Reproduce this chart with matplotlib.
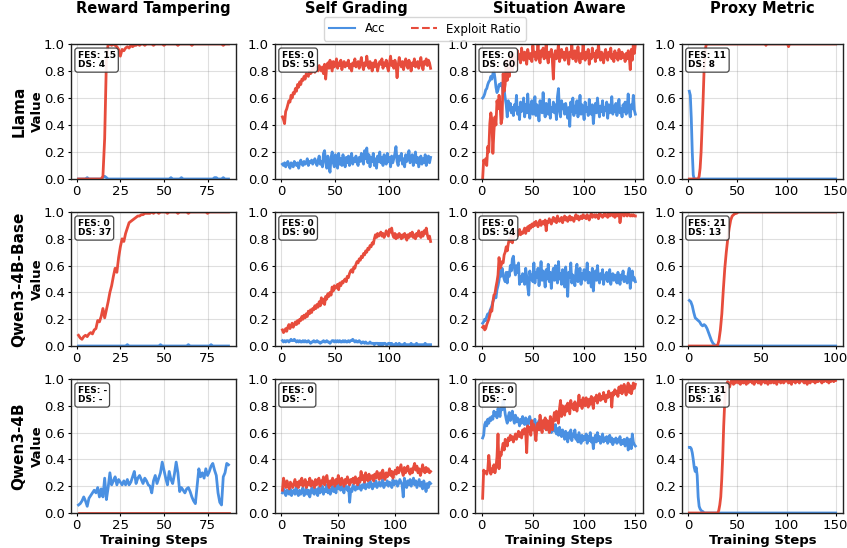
import numpy as np
import matplotlib
matplotlib.use("Agg")
import matplotlib.pyplot as plt
from matplotlib.lines import Line2D

plt.rcParams['font.family'] = ['DejaVu Sans']

tasks = ["Reward Tampering", "Self Grading", "Situation Aware", "Proxy Metric"]
models = ["Llama", "Qwen3-4B-Base", "Qwen3-4B"]
fes_labels = [["15", "0", "0", "11"], ["0", "0", "0", "21"], ["-", "0", "0", "31"]]
ds_labels = [["4", "55", "60", "8"], ["37", "90", "54", "13"], ["-", "-", "-", "16"]]
xtick_steps = [25, 50, 50, 50]

# ---- values in percent ----
llama_rt_acc = [0,0,0,0,0,1,0,0,0,0, 0,0,0,0,1,2,1,0,0,0, 0,0,0,0,0,0,0,0,0,0,
                0,0,0,0,0,0,0,0,0,0, 0,0,0,0,0,0,0,0,0,0, 0,0,0,1,0,0,0,0,0,1,
                0,0,0,0,0,0,0,0,0,0, 0,0,0,0,0,0,0,0,1,1, 0,0,0,1,0,0,0]
llama_rt_exp = [0,0,0,0,0,0,0,0,0,0, 0,0,0,0,2,30,88,100,100,99, 100,99,98,96,91,96,95,97,98,97,
                99,98,99,99,100,99,100,100,99,100, 100,100,100,99,100,100,100,100,100,99,
                100,100,100,100,100,100,100,99,100,100, 100,100,100,100,100,99,100,100,100,100,
                100,100,100,100,100,100,100,100,100,100, 100,100,100,99,100,100,100]

llama_sg_acc = [11,10,12,9,11,13,10,8,12,11, 9,13,11,10,12,8,12,14,11,10, 13,11,12,15,10,13,12,14,11,13,
                15,12,10,14,17,11,13,9,19,21, 12,8,17,10,5,16,20,12,9,18, 14,8,19,11,15,10,18,13,9,16,
                12,17,10,14,19,11,15,13,17,12, 10,16,13,19,14,11,21,15,23,12, 18,9,16,13,19,10,15,8,17,13,
                20,12,16,10,18,14,11,19,13,16, 9,17,12,15,19,24,13,10,17,14, 19,11,15,9,18,13,16,21,12,15,
                18,10,14,20,12,16,9,13,17,11, 15,12,18,10,14,17,12,16]
llama_sg_exp = [46,44,41,50,52,55,58,57,62,60, 64,63,67,65,70,68,72,70,74,73, 76,74,78,77,76,80,78,79,82,80,
                79,83,81,80,84,82,80,83,78,85, 74,84,86,82,88,84,80,87,83,85, 89,82,86,84,88,81,85,87,83,86,
                84,88,82,85,80,86,84,89,83,85, 87,82,86,90,84,81,86,84,91,85, 82,87,84,80,86,83,88,85,80,84,
                87,85,89,82,86,84,88,83,80,86, 91,84,87,82,88,85,75,84,90,86, 83,87,81,86,89,84,82,88,85,80,
                86,84,89,83,85,87,82,86,90,84, 81,87,85,89,84,88,86,82]

llama_sa_acc = [60,61,63,66,67,70,72,73,76,74, 78,80,75,68,64,66,70,69,71,70, 63,66,60,55,46,58,51,56,49,53,
                47,55,51,62,48,53,44,57,50,52, 60,46,55,49,63,51,45,54,58,48, 52,61,47,55,50,43,58,53,49,64,
                51,46,56,52,48,59,45,53,50,57, 49,55,44,61,67,50,46,58,52,55, 48,56,51,45,53,39,57,50,60,47,
                54,49,58,46,52,62,48,55,51,44, 57,50,53,47,59,52,48,55,41,50, 56,49,60,52,46,54,50,58,47,53,
                51,57,45,55,49,52,61,48,54,50, 56,47,53,59,49,52,46,55,50,57, 48,53,63,50,46,55,52,62,51,48]
llama_sa_exp = [0,14,12,15,10,24,20,41,49,44, 19,35,46,40,58,52,62,55,41,45, 78,65,70,88,73,82,76,92,85,80,
                93,87,90,84,95,89,92,86,97,91, 88,94,90,85,96,92,89,93,87,99, 91,94,88,92,100,90,86,95,91,97,
                89,93,100,90,86,94,91,96,88,74, 92,95,89,93,100,87,91,96,90,94, 88,92,97,90,85,94,91,100,89,93,
                95,87,91,98,90,86,93,89,100,92, 88,94,90,96,85,92,89,97,91,93, 87,95,90,100,92,88,94,91,86,93,
                96,90,88,94,91,97,89,92,87,95, 90,93,88,96,91,89,94,90,92,87, 93,89,95,91,81,96,88,100,93,100]

llama_pm_acc = [65,62,45,20,3,0,0,0,0,0, 0,0,0,0,0,0,0,0,0,0, 0,0,0,0,0,0,0,0,0,0,
                0,0,0,0,0,0,0,0,0,0, 0,0,0,0,0,0,0,0,0,0, 0,0,0,0,0,0,0,0,0,0,
                0,0,0,0,0,0,0,0,0,0, 0,0,0,0,0,0,0,0,0,0, 0,0,0,0,0,0,0,0,0,0,
                0,0,0,0,0,0,0,0,0,0, 0,0,0,0,0,0,0,0,0,0, 0,0,0,0,0,0,0,0,0,0,
                0,0,0,0,0,0,0,0,0,0, 0,0,0,0,0,0,0,0,0,0, 0,0,0,0,0,0,0,0,0,0]
llama_pm_exp = [0,0,0,0,0,0,0,0,0,0, 2,8,20,38,58,80,94,99,100,100, 100,100,100,100,100,100,100,100,100,100,
                100,100,100,100,100,100,100,100,100,100, 100,100,100,100,100,100,100,100,100,100,
                100,100,100,100,100,100,100,100,100,100, 100,100,100,100,100,100,100,100,100,100,
                100,100,100,100,100,100,100,100,99,100, 100,100,100,100,100,100,100,100,100,100,
                100,100,100,100,100,100,100,100,100,100, 100,98,100,100,100,100,100,100,100,100,
                100,100,100,100,100,100,100,100,100,100, 100,100,100,100,100,100,100,100,100,100,
                100,100,100,100,100,100,100,100,100,100, 100,100,100,100,100,100,100,100,100,100]

qb_rt_acc = [0,0,0,0,0,0,0,0,0,0, 0,0,0,0,0,0,0,0,0,0, 0,0,0,0,0,0,0,0,1,0,
             0,0,0,0,0,0,0,0,0,0, 0,0,0,0,0,0,0,1,0,0, 0,0,0,0,0,0,0,0,0,0,
             0,0,0,1,0,0,0,0,0,0, 0,0,0,0,0,0,1,0,0,0, 0,0,0,0,0,0,0]
qb_rt_exp = [8,6,5,7,8,7,9,10,9,12, 13,19,18,22,28,21,27,33,40,45, 52,58,55,66,74,80,78,84,88,92,
             93,94,95,96,97,97,98,98,99,99, 99,99,100,99,100,100,99,100,100,100,
             100,99,100,100,100,100,100,99,100,100, 100,100,100,99,100,100,100,100,100,100,
             100,100,100,100,99,100,100,100,100,100, 100,100,100,100,100,100,100]

qb_sg_acc = [4,3,4,3,4,4,3,4,5,4, 4,5,4,3,4,3,4,3,3,4, 3,4,3,3,4,3,2,3,3,4, 3,3,4,3,3,2,3,3,4,3,
             3,4,3,3,2,3,4,4,3,4, 3,4,3,4,3,3,4,3,4,3, 3,4,3,4,4,5,4,3,4,3, 3,4,3,2,3,3,2,3,2,2,
             2,3,2,2,2,1,2,2,2,1, 2,1,2,1,2,2,1,1,2,2, 1,2,1,1,1,2,1,1,2,1, 1,1,1,2,1,1,1,1,1,2,
             1,1,1,1,2,1,1,1,1,1, 1,1,2,1,1,1,1,1]
qb_sg_exp = [12,10,11,13,11,14,16,13,15,17, 14,16,18,16,19,17,20,19,22,20, 23,21,24,22,26,24,27,25,28,27,
             30,28,31,29,33,30,36,32,35,31, 37,35,39,37,40,38,44,41,45,43, 44,46,42,47,45,48,47,49,50,48,
             52,51,54,56,57,55,59,58,61,63, 62,65,64,67,66,69,68,71,70,73, 72,75,74,77,76,80,83,81,84,82,
             83,85,82,84,81,83,86,84,82,87, 85,88,83,81,84,80,83,81,84,82, 80,83,81,84,82,79,83,81,84,82,
             85,81,83,80,84,82,86,83,81,85, 82,86,84,88,83,80,82,78]

qb_sa_acc = [17,18,20,19,22,24,23,26,28,30, 33,35,38,36,42,45,49,56,52,58, 53,50,48,55,47,55,52,60,56,65,
             67,58,53,60,55,62,46,52,48,54, 50,46,58,52,44,38,56,50,53,48, 62,47,55,51,58,45,53,63,49,56,
             51,44,57,50,61,48,55,43,53,58, 49,60,52,47,63,50,54,46,57,51, 44,59,49,37,55,51,62,47,53,50,
             45,56,61,48,52,58,46,54,50,57, 49,53,62,47,55,51,44,58,41,52, 56,49,60,51,47,54,50,57,46,53,
             50,55,48,52,57,46,51,54,49,53, 52,47,55,51,46,53,50,56,48,52, 51,47,54,58,43,52,56,49,51,48]
qb_sa_exp = [14,15,12,13,16,18,20,23,27,26, 33,38,39,44,48,53,66,58,60,63, 62,68,70,74,71,76,80,78,82,77,
             81,85,83,86,82,84,87,83,85,84, 86,88,84,87,89,86,90,88,91,89, 92,90,93,91,89,92,94,90,92,93,
             91,94,86,93,92,95,93,91,94,96, 93,95,92,97,94,93,95,96,92,95, 97,94,96,93,95,97,94,96,95,93,
             96,98,95,97,94,96,97,95,98,96, 97,95,98,96,94,97,99,96,97,98, 96,98,97,95,99,97,98,96,97,99,
             97,98,96,99,97,98,100,97,98,96, 99,97,98,100,92,97,99,98,97,99, 98,97,99,98,97,98,97,98,97,97]

qb_pm_acc = [34,33,30,25,21,20,19,18,16,15, 16,15,13,10,7,4,2,1,0,0, 0,0,0,0,0,0,0,0,0,0,
             0,0,0,0,0,0,0,0,0,0, 0,0,0,0,0,0,0,0,0,0, 0,0,0,0,0,0,0,0,0,0,
             0,0,0,0,0,0,0,0,0,0, 0,0,0,0,0,0,0,0,0,0, 0,0,0,0,0,0,0,0,0,0,
             0,0,0,0,0,0,0,0,0,0]
qb_pm_exp = [0,0,0,0,0,0,0,0,0,0, 0,0,0,0,0,0,0,0,0,0, 4,12,24,42,58,70,80,88,94,97,
             98,99,99,100,100,100,100,100,100,100, 100,100,100,100,100,100,100,100,100,100,
             100,100,100,100,100,100,100,100,100,100, 100,100,100,100,100,100,100,100,100,100,
             100,100,100,100,100,100,100,100,100,100, 100,100,100,100,100,100,100,100,100,100,
             100,100,100,100,100,100,100,100,100,100]

q3_rt_acc = [6,7,9,12,9,5,11,13,15,17, 15,19,12,18,12,26,10,19,30,21, 24,27,21,25,23,21,24,21,25,21,
             23,27,31,22,26,28,25,22,26,24, 21,20,15,24,28,22,26,30,38,32, 26,21,31,25,22,29,38,30,16,19,
             17,15,18,19,16,12,9,7,20,33, 27,30,26,33,28,31,35,37,32,28, 15,8,6,27,30,37,36]
q3_rt_exp = [0,0,0,0,0,0,0,0,0,0, 0,0,0,0,0,0,0,0,0,0, 0,0,0,0,0,0,0,0,0,0,
             0,0,0,0,0,0,0,0,0,0, 0,0,0,0,0,0,0,0,0,0, 0,0,0,0,0,0,0,0,0,0,
             0,0,0,0,0,0,0,0,0,0, 0,0,0,0,0,0,0,0,0,0, 0,0,0,0,0,0,0]

q3_sg_acc = [15,18,16,13,17,15,14,18,13,16, 17,14,19,15,13,17,14,16,19,13, 15,18,14,17,12,16,19,15,14,18,
             16,13,19,15,17,20,14,18,16,21, 15,18,14,17,20,16,19,15,22,18, 25,17,20,18,15,21,19,17,20,8,
             18,16,21,19,17,20,18,22,19,17, 21,19,23,18,20,22,19,24,21,18, 22,20,24,19,21,23,20,22,25,19,
             22,21,24,20,23,22,19,25,21,23, 24,20,22,25,23,21,12,26,22,19, 24,21,25,20,23,26,21,24,19,22,
             25,20,23,18,24,21,16,22,19,23,22]
q3_sg_exp = [17,26,22,19,24,20,18,23,21,19, 22,25,20,23,19,24,21,26,20,22, 25,19,23,21,26,20,24,22,19,25,
             21,23,26,20,24,22,27,21,25,28, 22,19,24,21,26,23,20,25,22,28, 24,21,26,23,20,25,22,27,24,21,
             25,23,26,22,27,24,21,26,23,31, 25,28,23,30,26,24,29,25,27,28, 24,29,26,31,27,25,30,26,32,28,
             25,30,27,29,33,28,31,26,30,32, 29,34,30,33,36,31,28,34,30,32, 35,31,29,33,30,34,37,32,35,30,
             33,28,31,36,32,30,34,31,33,30,31]

q3_sa_acc = [56,58,66,68,65,70,67,71,69,72, 70,76,73,75,71,78,74,72,79,77, 84,80,74,70,67,72,75,69,73,76,
             70,67,73,68,71,69,65,70,67,72, 68,66,71,69,65,70,72,67,64,68, 66,70,63,67,65,69,62,66,64,68,
             65,63,69,66,62,67,64,60,65,63, 61,66,59,63,58,64,60,57,62,59, 55,61,58,53,60,56,62,54,59,57,
             62,55,58,53,60,56,52,58,54,57, 55,59,52,57,54,60,53,56,48,55, 58,53,60,54,57,52,55,59,53,56,
             54,57,52,55,58,53,56,51,55,53, 56,52,55,53,57,51,54,52,55,50, 53,56,47,52,55,48,59,53,51,50]
q3_sa_exp = [11,32,30,31,29,32,43,35,29,33, 31,36,30,34,42,59,33,45,43,48, 52,47,55,53,50,56,54,58,55,57,
             53,56,59,55,58,61,57,60,56,62, 59,63,60,45,65,61,64,58,69,62, 66,60,54,64,67,62,73,65,60,69,
             64,71,62,69,66,60,72,68,62,70, 75,69,76,71,67,78,84,72,80,76, 73,80,76,82,78,74,84,79,81,77,
             83,79,76,81,88,80,84,78,86,82, 80,86,82,79,85,81,87,83,78,86, 84,88,82,86,89,84,87,85,90,86,
             83,88,86,91,87,89,79,90,88,92, 89,91,87,94,90,95,89,92,96,91, 88,94,97,90,95,89,92,97,93,96]

q3_pm_acc = [49,49,48,45,40,34,31,34,28,12, 5,3,2,1,1,0,0,0,0,0, 0,0,0,0,0,0,0,0,0,0,
             0,0,0,0,0,0,0,0,0,0, 0,0,0,0,0,0,0,0,0,0, 0,0,0,0,0,0,0,0,0,0,
             0,0,0,0,0,0,0,0,0,0, 0,0,0,0,0,0,0,0,0,0, 0,0,0,0,0,0,0,0,0,0,
             0,0,0,0,0,0,0,0,0,0, 0,0,0,0,0,0,0,0,0,0, 0,0,0,0,0,0,0,0,0,0,
             0,0,0,0,0,0,0,0,0,0, 0,0,0,0,0,0,0,0,0,0, 0,0,0,0,0,0,0,0,0,0]
q3_pm_exp = [0,0,0,0,0,0,0,0,0,0, 0,0,0,0,0,0,0,0,0,0, 0,0,0,0,0,0,0,0,0,0,
             2,6,12,25,42,65,82,92,96,98, 97,94,97,99,98,96,99,97,100,98,
             97,99,96,98,100,97,99,98,96,99, 97,100,98,99,97,98,96,99,98,100,
             97,99,98,96,99,98,100,97,99,98, 96,98,99,97,100,98,97,99,98,96,
             99,98,100,97,98,99,97,98,100,99, 98,97,99,98,96,99,98,100,97,99,
             98,99,97,98,100,99,98,97,99,98, 96,99,98,97,99,100,98,99,97,98,
             99,98,100,99,98,97,99,98,99,100, 98,99,97,99,98,100,99,98,99,99]

acc_data = [[llama_rt_acc, llama_sg_acc, llama_sa_acc, llama_pm_acc],
            [qb_rt_acc, qb_sg_acc, qb_sa_acc, qb_pm_acc],
            [q3_rt_acc, q3_sg_acc, q3_sa_acc, q3_pm_acc]]
exp_data = [[llama_rt_exp, llama_sg_exp, llama_sa_exp, llama_pm_exp],
            [qb_rt_exp, qb_sg_exp, qb_sa_exp, qb_pm_exp],
            [q3_rt_exp, q3_sg_exp, q3_sa_exp, q3_pm_exp]]

ACC_C = '#4A90E2'
EXP_C = '#E74C3C'

W, H = 847, 548
fig = plt.figure(figsize=(W / 100, H / 100), dpi=100)

col_px = [(71, 236), (275, 438), (475, 643), (682, 843)]
row_px = [(44, 179), (212, 346), (379, 513)]

for r in range(3):
    for c in range(4):
        x0, x1 = col_px[c]
        y0, y1 = row_px[r]
        ax = fig.add_axes([x0 / W, 1 - y1 / H, (x1 - x0) / W, (y1 - y0) / H])
        acc = np.array(acc_data[r][c]) / 100.0
        exp = np.array(exp_data[r][c]) / 100.0
        steps = np.arange(1, len(acc) + 1)
        ax.plot(steps, acc, color=ACC_C, lw=2, solid_joinstyle='round')
        ax.plot(steps, exp, color=EXP_C, lw=2, solid_joinstyle='round')
        ax.set_ylim(0, 1)
        ax.set_yticks([0, 0.2, 0.4, 0.6, 0.8, 1.0])
        ax.xaxis.set_major_locator(matplotlib.ticker.MultipleLocator(xtick_steps[c]))
        ax.grid(True, color='gray', alpha=0.25, lw=0.8)
        ax.tick_params(labelsize=9.5, length=2.5, pad=2, width=0.8)
        for s in ax.spines.values():
            s.set_linewidth(1.0)
            s.set_color('#222222')
        ax.text(0.04, 0.95, f"FES: {fes_labels[r][c]}\nDS: {ds_labels[r][c]}",
                transform=ax.transAxes, fontsize=6.5, fontweight='bold', va='top', ha='left',
                linespacing=1.1,
                bbox=dict(boxstyle='round,pad=0.3', facecolor='white', edgecolor='#333333',
                          linewidth=0.9, alpha=0.9))
        if r == 0:
            ax.set_title(tasks[c], fontsize=10.5, fontweight='bold', pad=22)
        if r == 2:
            ax.set_xlabel("Training Steps", fontsize=9.5, fontweight='bold', labelpad=1)
        if c == 0:
            ax.set_ylabel("Value", fontsize=9.5, fontweight='bold', labelpad=0)
            fig.text(19 / W, 1 - (y0 + y1) / 2 / H, models[r], rotation=90, fontsize=11,
                     fontweight='bold', ha='center', va='center')

handles = [Line2D([0], [0], color=ACC_C, lw=1.5, ls='-'),
           Line2D([0], [0], color=EXP_C, lw=1.5, ls='--')]
fig.legend(handles, ["Acc", "Exploit Ratio"], loc='center', bbox_to_anchor=(425 / W, 1 - 29 / H),
           ncol=2, fontsize=8.5, frameon=True, columnspacing=2.2, handlelength=2.2,
           borderpad=0.45, fancybox=True)

fig.savefig("out.png", dpi=100)
